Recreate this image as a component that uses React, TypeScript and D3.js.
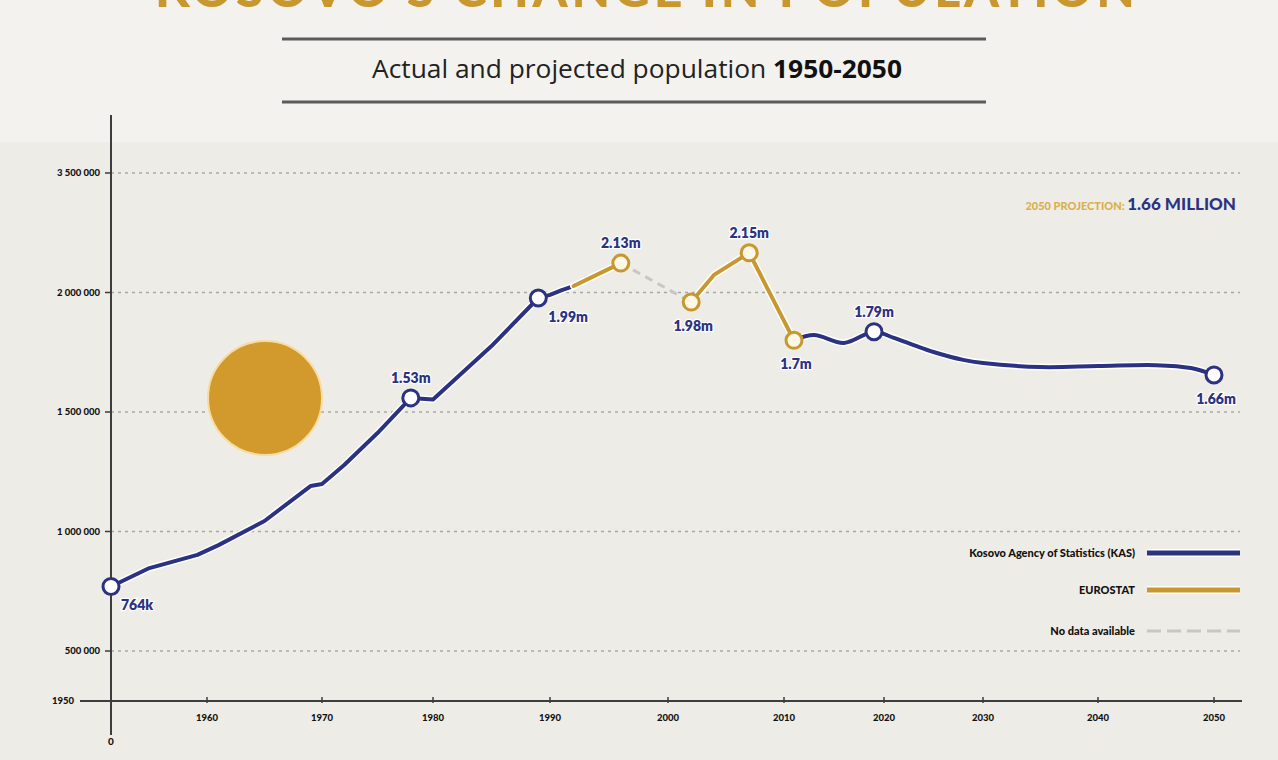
import * as d3 from "d3";

// ---------- data ----------
const kasEarlyYears = [1950, 1954, 1959, 1961, 1965, 1969, 1970, 1972, 1975, 1978, 1980, 1985, 1989, 1990, 1991, 1992];
const kasEarlyPop = [770000, 847000, 902000, 943000, 1044000, 1190000, 1199000, 1278000, 1412000, 1559000, 1552000, 1776000, 1977000, 1990000, 2010000, 2027000];

const euroAYears = [1992, 1996];
const euroAPop = [2027000, 2123000];

const gapYears = [1996, 2002];
const gapPop = [2123000, 1960000];

const euroBYears = [2002, 2004, 2007, 2011];
const euroBPop = [1960000, 2075000, 2166000, 1800000];

const kasLateYears = [2011, 2013, 2016, 2019, 2021, 2023, 2025, 2028, 2030, 2035, 2040, 2045, 2048, 2050];
const kasLatePop = [1800000, 1822000, 1789000, 1836000, 1810000, 1780000, 1751000, 1718000, 1705000, 1688000, 1692000, 1696000, 1684000, 1655000];

const markerYears = [1950, 1978, 1989, 1996, 2002, 2007, 2011, 2019, 2050];
const markerPop = [770000, 1559000, 1977000, 2123000, 1960000, 2166000, 1800000, 1836000, 1655000];
const markerLabels = ["764k", "1.53m", "1.99m", "2.13m", "1.98m", "2.15m", "1.7m", "1.79m", "1.66m"];
const markerSource = ["kas", "kas", "kas", "euro", "euro", "euro", "euro", "kas", "kas"];
const markerPlace = ["belowRight", "above", "belowRight", "above", "below", "above", "below", "above", "below"];

const xTickYears = [1950, 1960, 1970, 1980, 1990, 2000, 2010, 2020, 2030, 2040, 2050];
const yTickValues = [500000, 1000000, 1500000, 2000000, 2500000];
const yTickLabels = ["500 000", "1 000 000", "1 500 000", "2 000 000", "3 500 000"];

const legendLabels = ["Kosovo Agency of Statistics (KAS)", "EUROSTAT", "No data available"];

// ---------- look ----------
const W = 1278;
const H = 760;
const NAVY = "#2c3282";
const GOLD = "#c9972f";
const GAP = "#c9c7c1";
const FONT = "Lato, 'DejaVu Sans', sans-serif";

// hand-drawn axis: tick pixel positions are uneven in the original
const xTickPx = [111, 207, 322, 433, 550, 668, 784, 884, 983, 1098, 1214];

const x = d3.scaleLinear().domain(xTickYears).range(xTickPx);
const y = d3.scaleLinear().domain([500000, 2500000]).range([651, 173]);

const zip = (ys: number[], vs: number[]) => ys.map((yr, i) => [yr, vs[i]] as [number, number]);

const smooth = d3
  .line<[number, number]>()
  .x((d) => x(d[0]))
  .y((d) => y(d[1]))
  .curve(d3.curveCatmullRom.alpha(0.5));

const straight = d3
  .line<[number, number]>()
  .x((d) => x(d[0]))
  .y((d) => y(d[1]));

const placeOffset: Record<string, { dx: number; dy: number; anchor: string }> = {
  above: { dx: 0, dy: -15, anchor: "middle" },
  below: { dx: 2, dy: 29, anchor: "middle" },
  belowRight: { dx: 10, dy: 24, anchor: "start" },
};

function Series({ d, color, curve }: { d: [number, number][]; color: string; curve: "smooth" | "straight" }) {
  const path = (curve === "smooth" ? smooth : straight)(d) ?? "";
  return (
    <g fill="none" strokeLinecap="round" strokeLinejoin="round">
      <path d={path} stroke="#ffffff" strokeWidth={7} />
      <path d={path} stroke={color} strokeWidth={4} />
    </g>
  );
}

export default function App() {
  const plotLeft = x(1950);
  const plotRight = 1240;
  const axisY = 701;

  return (
    <svg
      width={W}
      height={H}
      viewBox={`0 0 ${W} ${H}`}
      style={{ position: "absolute", left: 0, top: 0, display: "block" }}
      fontFamily={FONT}
    >
      {/* background */}
      <rect x={0} y={0} width={W} height={H} fill="#edece7" />
      <rect x={0} y={0} width={W} height={142} fill="#f4f2ee" />

      {/* title (cut off at top in the original) */}
      <text
        x={W / 2 + 6}
        y={7}
        textAnchor="middle"
        fontSize={50}
        fontWeight={900}
        fill={GOLD}
        textLength={980}
        lengthAdjust="spacing"
      >
        KOSOVO'S CHANGE IN POPULATION
      </text>
      <line x1={282} x2={986} y1={39} y2={39} stroke="#5b5b5b" strokeWidth={3} />
      <line x1={282} x2={986} y1={102} y2={102} stroke="#5b5b5b" strokeWidth={3} />
      <text
        x={637}
        y={78}
        textAnchor="middle"
        fontSize={25}
        fill="#222"
        fontFamily="'Open Sans', sans-serif"
        textLength={530}
        lengthAdjust="spacingAndGlyphs"
      >
        <tspan>Actual and projected population </tspan>
        <tspan fontWeight={700} fill="#111">1950-2050</tspan>
      </text>

      {/* gridlines */}
      <g>
        {yTickValues.map((v) => (
          <line
            key={v}
            x1={plotLeft}
            x2={plotRight}
            y1={y(v)}
            y2={y(v)}
            stroke="#a9a8a3"
            strokeWidth={1.6}
            strokeDasharray="3 4"
          />
        ))}
      </g>

      {/* y axis */}
      <line x1={plotLeft} x2={plotLeft} y1={115} y2={735} stroke="#3d3d3d" strokeWidth={2} />
      {yTickValues.map((v, i) => (
        <g key={v} transform={`translate(${plotLeft},${y(v)})`}>
          <line x1={-6} x2={0} stroke="#3d3d3d" strokeWidth={1.5} />
          <text x={-11} dy="0.35em" textAnchor="end" fontSize={9.5} fontWeight={900} fill="#111">
            {yTickLabels[i]}
          </text>
        </g>
      ))}

      {/* x axis */}
      <line x1={80} x2={1242} y1={axisY} y2={axisY} stroke="#3d3d3d" strokeWidth={2} />
      <text x={74} y={axisY} dy="0.35em" textAnchor="end" fontSize={9.5} fontWeight={900} fill="#111">
        1950
      </text>
      <text x={plotLeft} y={741} dy="0.35em" textAnchor="middle" fontSize={10} fontWeight={900} fill="#111">
        0
      </text>
      {xTickYears.slice(1).map((yr) => (
        <g key={yr} transform={`translate(${x(yr)},${axisY})`}>
          <line y1={-4} y2={2} stroke="#3d3d3d" strokeWidth={1.5} />
          <text y={17} dy="0.35em" textAnchor="middle" fontSize={9.5} fontWeight={900} fill="#111">
            {yr}
          </text>
        </g>
      ))}

      {/* decorative circle */}
      <circle cx={265} cy={398} r={57} fill="#d29a2c" stroke="#f7dca0" strokeWidth={2} />

      {/* series */}
      <path
        d={straight(zip(gapYears, gapPop)) ?? ""}
        fill="none"
        stroke={GAP}
        strokeWidth={3}
        strokeDasharray="8 6"
      />
      <Series d={zip(kasEarlyYears, kasEarlyPop)} color={NAVY} curve="straight" />
      <Series d={zip(euroAYears, euroAPop)} color={GOLD} curve="straight" />
      <Series d={zip(euroBYears, euroBPop)} color={GOLD} curve="straight" />
      <Series d={zip(kasLateYears, kasLatePop)} color={NAVY} curve="smooth" />

      {/* markers + labels */}
      {markerYears.map((yr, i) => {
        const cx = x(yr);
        const cy = y(markerPop[i]);
        const col = markerSource[i] === "kas" ? NAVY : GOLD;
        const off = placeOffset[markerPlace[i]];
        return (
          <g key={yr}>
            <circle cx={cx} cy={cy} r={8} fill={markerSource[i] === "kas" ? "#ffffff" : "#fdf7e6"} stroke={col} strokeWidth={3} />
            <text
              x={cx + off.dx}
              y={cy + off.dy}
              textAnchor={off.anchor}
              fontSize={14}
              fontWeight={800}
              fill={NAVY}
              stroke="#ffffff"
              strokeWidth={2.5}
              paintOrder="stroke"
            >
              {markerLabels[i]}
            </text>
          </g>
        );
      })}

      {/* projection note */}
      <text x={1236} y={210} textAnchor="end" fontWeight={900}>
        <tspan fontSize={11} fill="#d9b04e">2050 PROJECTION: </tspan>
        <tspan fontSize={17} fill={NAVY}> 1.66 MILLION</tspan>
      </text>

      {/* legend */}
      {legendLabels.map((lab, i) => {
        const ly = [553, 590, 631][i];
        return (
          <g key={lab}>
            <text x={1135} y={ly} dy="0.35em" textAnchor="end" fontSize={11} fontWeight={900} fill="#111">
              {lab}
            </text>
            {i === 2 ? (
              <line x1={1147} x2={1240} y1={ly} y2={ly} stroke={GAP} strokeWidth={3} strokeDasharray="14 6" />
            ) : (
              <>
                <line x1={1147} x2={1240} y1={ly} y2={ly} stroke="#ffffff" strokeWidth={8} />
                <line x1={1147} x2={1240} y1={ly} y2={ly} stroke={i === 0 ? NAVY : GOLD} strokeWidth={5} />
              </>
            )}
          </g>
        );
      })}
    </svg>
  );
}
